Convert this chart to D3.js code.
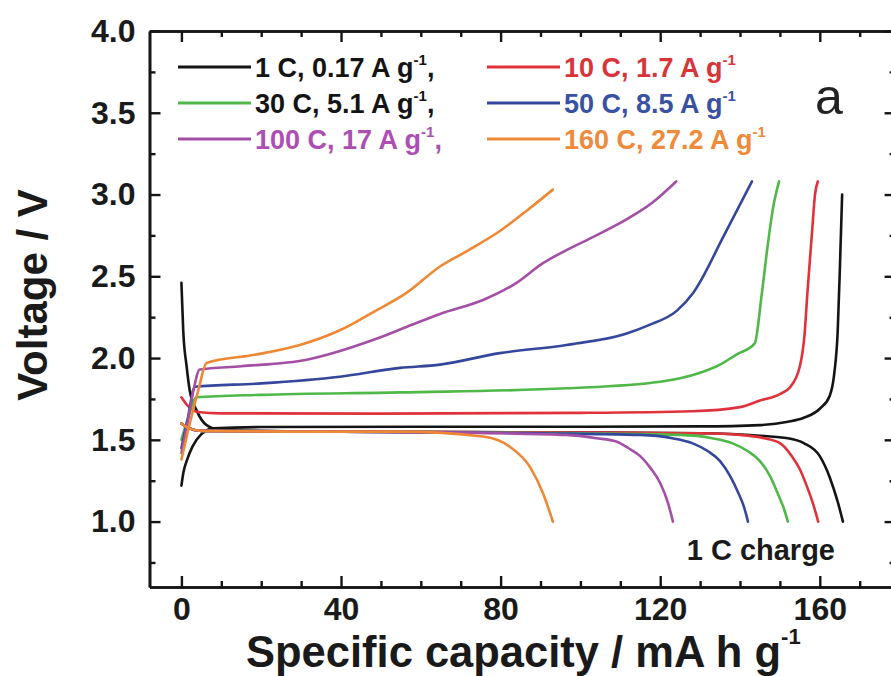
<!DOCTYPE html>
<html>
<head>
<meta charset="utf-8">
<script src="https://cdn.jsdelivr.net/npm/d3@7"></script>
<style>
  html, body { margin: 0; padding: 0; background: #fff; }
  svg { display: block; font-family: "Liberation Sans", Arial, Helvetica, sans-serif; }
</style>
</head>
<body>
<svg id="chart" width="891" height="676"></svg>
<script>
// ---- data: galvanostatic charge / discharge profiles (capacity mA h g-1, voltage V) ----
const xMajorTicks = [0, 40, 80, 120, 160];
const yMajorTicks = [1.0, 1.5, 2.0, 2.5, 3.0, 3.5, 4.0];

const rateLabels = ["1 C, 0.17 A g", "10 C, 1.7 A g", "30 C, 5.1 A g",
                    "50 C, 8.5 A g", "100 C, 17 A g", "160 C, 27.2 A g"];

const charge1C = [[0,1.22],[0.5,1.30],[1.3,1.37],[2.8,1.46],[5,1.535],[8,1.57],[20,1.578],[60,1.58],
  [100,1.58],[130,1.582],[145,1.59],[152,1.61],[156,1.635],[160,1.69],[162.5,1.77],[163.6,1.9],
  [164.5,2.17],[165.1,2.6],[165.6,3.0]];
const discharge1C = [[0,2.46],[0.45,2.17],[1.3,1.95],[2.1,1.80],[3.8,1.68],[6.3,1.59],[10,1.56],
  [40,1.55],[100,1.545],[130,1.54],[145,1.525],[152,1.51],[156,1.48],[160,1.40],[162.5,1.27],
  [164.5,1.12],[165.8,1.0]];

const charge10C = [[0,1.76],[1.5,1.71],[4,1.67],[10,1.662],[50,1.66],[100,1.665],[128,1.675],
  [140,1.70],[145,1.74],[150,1.78],[152.5,1.82],[155,1.95],[156.2,2.15],[156.9,2.4],[158,2.75],
  [158.8,3.0],[159.5,3.08]];
const discharge10C = [[0,1.60],[2,1.57],[5,1.555],[40,1.55],[100,1.545],[130,1.54],[140,1.53],
  [146,1.51],[150,1.48],[153,1.40],[155,1.32],[156.7,1.22],[158.3,1.11],[159.6,1.0]];

const charge30C = [[0,1.50],[1.5,1.62],[3.8,1.76],[20,1.775],[54.8,1.79],[96.5,1.815],[120,1.855],
  [130,1.91],[135,1.96],[139,2.02],[143.7,2.09],[145.4,2.38],[147,2.7],[148.3,2.92],[149.8,3.08]];
const discharge30C = [[0,1.60],[2,1.57],[5,1.555],[40,1.55],[100,1.54],[125,1.53],[133,1.51],
  [138,1.48],[142,1.43],[145,1.37],[147.5,1.28],[149.5,1.17],[151,1.08],[152,1.0]];

const charge50C = [[0,1.45],[1.5,1.62],[3.4,1.825],[20,1.845],[39.7,1.886],[54.8,1.94],[64.8,1.96],
  [79.8,2.03],[96.5,2.08],[111.6,2.15],[117,2.2],[124.2,2.29],[128.3,2.40],[136,2.75],[143,3.08]];
const discharge50C = [[0,1.60],[2,1.57],[5,1.555],[40,1.55],[90,1.54],[115,1.53],[123,1.51],
  [128,1.48],[132,1.43],[135,1.37],[137.5,1.28],[139.5,1.18],[141,1.09],[142,1.0]];

const charge100C = [[0,1.42],[1.5,1.6],[3,1.8],[4.6,1.93],[15,1.95],[31.4,1.99],[48,2.11],
  [56.4,2.19],[64.8,2.27],[75.6,2.355],[84,2.46],[90.6,2.58],[96.5,2.66],[104,2.75],[112.4,2.86],
  [118,2.95],[124,3.08]];
const discharge100C = [[0,1.60],[2,1.57],[5,1.555],[40,1.55],[80,1.54],[96.5,1.53],[104,1.51],
  [109,1.49],[112,1.45],[115,1.40],[117.5,1.33],[120,1.236],[122,1.11],[123.2,1.0]];

const charge160C = [[0,1.38],[2.1,1.60],[4.2,1.80],[6.3,1.97],[18.4,2.02],[29.7,2.08],[39.7,2.17],
  [48,2.28],[56.5,2.40],[64.8,2.56],[72,2.66],[80,2.78],[87,2.91],[93.1,3.03]];
const discharge160C = [[0,1.60],[2,1.57],[5,1.555],[30,1.55],[54.8,1.55],[75.6,1.52],[82.3,1.458],
  [87.3,1.336],[90.6,1.175],[93.1,1.0]];

// ---- styling ----
const lineColors = ["#141414", "#e0323a", "#4fb848", "#34479c", "#a34fa6", "#ef8834"];
const legendTextColors = ["#141414", "#d9343a", "#141414", "#3a51a3", "#ad4fb2", "#ee8a3a"];

const series = [
  { curves: [charge1C, discharge1C] },
  { curves: [charge10C, discharge10C] },
  { curves: [charge30C, discharge30C] },
  { curves: [charge50C, discharge50C] },
  { curves: [charge100C, discharge100C] },
  { curves: [charge160C, discharge160C] }
];

const svg = d3.select("#chart");
const plot = { left: 149.5, right: 895.6, top: 31, bottom: 587 };

const x = d3.scaleLinear().domain([-8, 179]).range([plot.left, plot.right]);
const y = d3.scaleLinear().domain([0.6, 4.0]).range([plot.bottom, plot.top]);

const axisColor = "#151515";
const majorLen = 11, minorLen = 6;
const xMinor = d3.range(10, 180, 10).filter(v => !xMajorTicks.includes(v));
const yMinor = d3.range(0.75, 4.0, 0.5);

function styleAxis(g) {
  g.selectAll("path.domain").attr("stroke", axisColor).attr("stroke-width", 2.6);
  g.selectAll(".tick line").attr("stroke", axisColor).attr("stroke-width", 2.4);
  g.selectAll(".tick text").attr("fill", "#1a1a1a")
    .attr("font-family", "'Liberation Sans', Arial, sans-serif")
    .attr("font-weight", "bold").attr("font-size", 32);
}

// minor ticks (all four sides)
svg.append("g").attr("transform", `translate(0,${plot.bottom})`)
  .call(d3.axisBottom(x).tickValues(xMinor).tickSize(-minorLen).tickSizeOuter(0).tickFormat(""))
  .call(styleAxis);
svg.append("g").attr("transform", `translate(0,${plot.top})`)
  .call(d3.axisTop(x).tickValues(xMinor).tickSize(-minorLen).tickSizeOuter(0).tickFormat(""))
  .call(styleAxis);
svg.append("g").attr("transform", `translate(${plot.left},0)`)
  .call(d3.axisLeft(y).tickValues(yMinor).tickSize(-minorLen).tickSizeOuter(0).tickFormat(""))
  .call(styleAxis);
svg.append("g").attr("transform", `translate(${plot.right},0)`)
  .call(d3.axisRight(y).tickValues(yMinor).tickSize(-minorLen).tickSizeOuter(0).tickFormat(""))
  .call(styleAxis);

// major ticks with labels
svg.append("g").attr("transform", `translate(0,${plot.bottom})`)
  .call(d3.axisBottom(x).tickValues(xMajorTicks).tickSize(-majorLen).tickSizeOuter(0)
    .tickPadding(10).tickFormat(d3.format("d")))
  .call(styleAxis);
svg.append("g").attr("transform", `translate(0,${plot.top})`)
  .call(d3.axisTop(x).tickValues(xMajorTicks).tickSize(-majorLen).tickSizeOuter(0).tickFormat(""))
  .call(styleAxis);
svg.append("g").attr("transform", `translate(${plot.left},0)`)
  .call(d3.axisLeft(y).tickValues(yMajorTicks).tickSize(-majorLen).tickSizeOuter(0)
    .tickPadding(14).tickFormat(d3.format(".1f")))
  .call(styleAxis);
svg.append("g").attr("transform", `translate(${plot.right},0)`)
  .call(d3.axisRight(y).tickValues(yMajorTicks).tickSize(-majorLen).tickSizeOuter(0).tickFormat(""))
  .call(styleAxis);

// curves
const line = d3.line().x(d => x(d[0])).y(d => y(d[1])).curve(d3.curveMonotoneX);
const curveLayer = svg.append("g").attr("fill", "none")
  .attr("stroke-width", 2.6).attr("stroke-linejoin", "round").attr("stroke-linecap", "round");
series.forEach((s, i) => {
  s.curves.forEach(c => {
    curveLayer.append("path").attr("d", line(c)).attr("stroke", lineColors[i]);
  });
});

// legend
const legendCols = [178, 487];
const legendRows = [67, 103, 139];
const legend = svg.append("g").attr("font-weight", "bold");
rateLabels.forEach((lab, i) => {
  const col = i % 2, row = Math.floor(i / 2);
  const lx = legendCols[col], ly = legendRows[row];
  legend.append("line").attr("x1", lx).attr("x2", lx + 73).attr("y1", ly).attr("y2", ly)
    .attr("stroke", lineColors[i]).attr("stroke-width", 3);
  const t = legend.append("text").attr("x", lx + 77).attr("y", ly + 9.5)
    .attr("font-size", 27).attr("fill", legendTextColors[i]);
  t.append("tspan").text(lab);
  t.append("tspan").attr("font-size", 15).attr("dy", -12).text("-1");
  if (col === 0) t.append("tspan").attr("dy", 12).text(",");
});

// panel letter and annotation
svg.append("text").attr("x", 815).attr("y", 114).attr("font-size", 50)
  .attr("fill", "#222").text("a");
svg.append("text").attr("x", 835).attr("y", 560).attr("text-anchor", "end")
  .attr("font-size", 29).attr("font-weight", "bold").attr("fill", "#1a1a1a").text("1 C charge");

// axis titles
const xTitle = svg.append("text").attr("x", 246).attr("y", 667)
  .attr("font-size", 43.5).attr("font-weight", "bold").attr("fill", "#1a1a1a");
xTitle.append("tspan").text("Specific capacity / mA h g");
xTitle.append("tspan").attr("font-size", 22).attr("dy", -23).text("-1");

svg.append("text").attr("transform", "translate(47,295) rotate(-90)")
  .attr("text-anchor", "middle").attr("font-size", 42).attr("font-weight", "bold")
  .attr("fill", "#1a1a1a").text("Voltage / V");
</script>
</body>
</html>
